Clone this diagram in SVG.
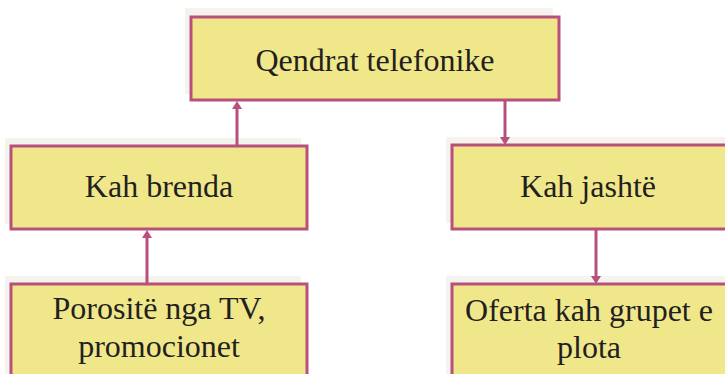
<svg xmlns="http://www.w3.org/2000/svg" width="725" height="374" viewBox="0 0 725 374">
  <style>
    .shadow { fill: #f5f3ee; }
    .box { fill: #f0e78a; stroke: #b8507c; stroke-width: 3; }
    .label { font-family: "Liberation Serif", "DejaVu Serif", serif; font-size: 32px; fill: #231f20; text-anchor: middle; }
    .link { stroke: #b8507c; stroke-width: 3; fill: none; }
    .head { fill: #b8507c; }
  </style>
  <rect width="725" height="374" fill="#ffffff"/>

  <g id="qendrat">
    <rect class="shadow" x="185" y="8" width="368" height="86"/>
    <rect class="box" x="191" y="17" width="368" height="83"/>
    <text class="label" x="375" y="71">Qendrat telefonike</text>
  </g>

  <g id="kah-brenda">
    <rect class="shadow" x="5" y="138" width="296" height="86"/>
    <rect class="box" x="11" y="146" width="296" height="83"/>
    <text class="label" x="159" y="197">Kah brenda</text>
  </g>

  <g id="kah-jashte">
    <rect class="shadow" x="446" y="137" width="290" height="86"/>
    <rect class="box" x="452" y="145" width="290" height="84"/>
    <text class="label" x="588" y="197">Kah jashtë</text>
  </g>

  <g id="porosite">
    <rect class="shadow" x="5" y="276" width="296" height="110"/>
    <rect class="box" x="11" y="284" width="296" height="110"/>
    <text class="label" x="159" y="319">Porositë nga TV,</text>
    <text class="label" x="159" y="357">promocionet</text>
  </g>

  <g id="oferta">
    <rect class="shadow" x="446" y="276" width="290" height="110"/>
    <rect class="box" x="452" y="284" width="290" height="110"/>
    <text class="label" x="589" y="321">Oferta kah grupet e</text>
    <text class="label" x="589" y="358">plota</text>
  </g>

  <g id="connectors">
    <!-- Kah brenda -> Qendrat telefonike -->
    <line class="link" x1="237" y1="145" x2="237" y2="106"/>
    <polygon class="head" points="237,101 232,109 242,109"/>
    <!-- Qendrat telefonike -> Kah jashtë -->
    <line class="link" x1="505" y1="101" x2="505" y2="139"/>
    <polygon class="head" points="505,145 500,137 510,137"/>
    <!-- Porositë -> Kah brenda -->
    <line class="link" x1="147" y1="283" x2="147" y2="235"/>
    <polygon class="head" points="147,230 142,238 152,238"/>
    <!-- Kah jashtë -> Oferta -->
    <line class="link" x1="596" y1="230" x2="596" y2="278"/>
    <polygon class="head" points="596,284 591,276 601,276"/>
  </g>
</svg>
